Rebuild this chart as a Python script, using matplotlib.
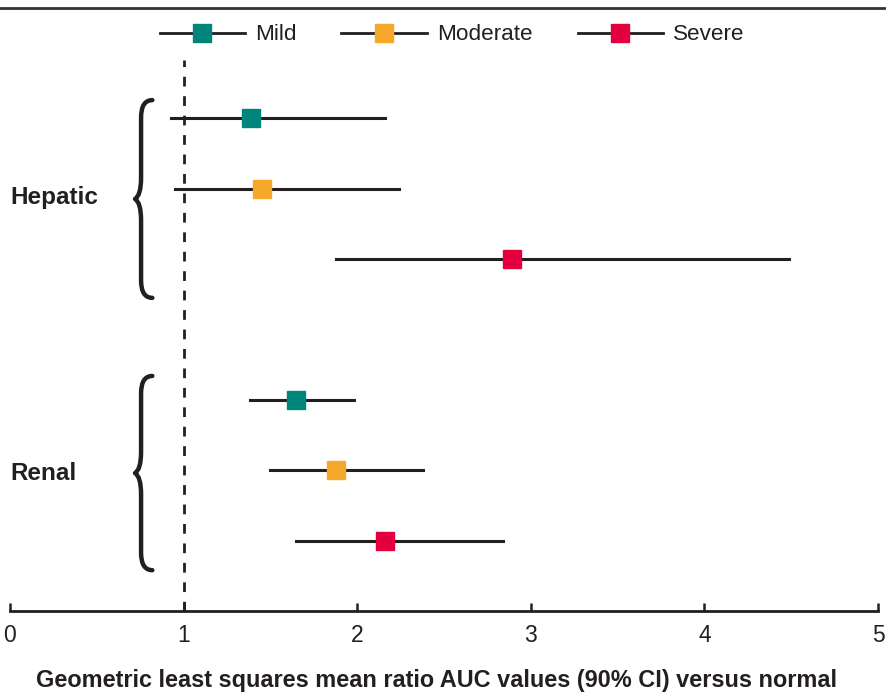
import matplotlib
matplotlib.use("Agg")
import matplotlib.pyplot as plt
from matplotlib.lines import Line2D
from matplotlib.path import Path
from matplotlib.patches import PathPatch
import matplotlib.transforms as mtransforms

# data
groups = ["Hepatic", "Renal"]
severities = ["Mild", "Moderate", "Severe"]
colors = ["#00857a", "#f5a82a", "#e4003f"]

hepatic_mean = [1.39, 1.45, 2.89]
hepatic_low = [0.93, 0.95, 1.88]
hepatic_high = [2.16, 2.24, 4.49]

renal_mean = [1.65, 1.88, 2.16]
renal_low = [1.38, 1.50, 1.65]
renal_high = [1.98, 2.38, 2.84]

plt.rcParams['font.family'] = ['Liberation Sans', 'DejaVu Sans']

fig = plt.figure(figsize=(8.86, 6.93), dpi=100)
ax = fig.add_axes([10 / 886, 1 - 611 / 693, 868 / 886, 551 / 693])

# rows: group 1 at 0,1,2 ; group 2 at 4,5,6
row_start = {"Hepatic": 0, "Renal": 4}
all_data = {
    "Hepatic": (hepatic_mean, hepatic_low, hepatic_high),
    "Renal": (renal_mean, renal_low, renal_high),
}

for g in groups:
    m, lo, hi = all_data[g]
    for k in range(3):
        y = row_start[g] + k
        ax.plot([lo[k], hi[k]], [y, y], color="#231f20", lw=2.2, zorder=2)
        ax.plot(m[k], y, marker="s", ms=12.5, color=colors[k], mec=colors[k], zorder=3)

# reference line at 1
ax.axvline(1, color="#231f20", lw=2, ls=(0, (3.5, 3.5)), zorder=1)


def brace(ax, y0, y1, x_tip=0.72, x_end=0.82):
    # curly brace opening to the right
    mid = (y0 + y1) / 2
    xs = x_tip + 0.035
    verts = [
        (x_end, y0),
        (xs, y0), (xs, y0 + 0.25),
        (xs, mid - 0.3),
        (xs, mid - 0.05), (x_tip, mid),
        (xs, mid + 0.05), (xs, mid + 0.3),
        (xs, y1 - 0.25),
        (xs, y1), (x_end, y1),
    ]
    codes = [Path.MOVETO,
             Path.CURVE3, Path.CURVE3,
             Path.LINETO,
             Path.CURVE3, Path.CURVE3,
             Path.CURVE3, Path.CURVE3,
             Path.LINETO,
             Path.CURVE3, Path.CURVE3]
    ax.add_patch(PathPatch(Path(verts, codes), fill=False, lw=3.2,
                           color="#231f20", capstyle="round", joinstyle="round"))


brace(ax, -0.26, 2.55)
brace(ax, 3.66, 6.42)

trans = mtransforms.blended_transform_factory(ax.transAxes, ax.transData)
ax.text(0, 1.12, "Hepatic", transform=trans, ha="left", va="center",
        fontsize=17.5, fontweight="bold", color="#231f20")
ax.text(0, 5.04, "Renal", transform=trans, ha="left", va="center",
        fontsize=17.5, fontweight="bold", color="#231f20")

ax.set_xlim(0, 5)
ax.set_ylim(7.0, -0.83)
ax.set_xticks([0, 1, 2, 3, 4, 5])
ax.set_yticks([])
for s in ["top", "right", "left"]:
    ax.spines[s].set_visible(False)
ax.spines["bottom"].set_linewidth(2)
ax.spines["bottom"].set_color("#231f20")
ax.tick_params(axis="x", direction="in", length=6, width=1.8,
               labelsize=16.5, pad=9, colors="#231f20")
ax.set_xlabel("Geometric least squares mean ratio AUC values (90% CI) versus normal",
              fontsize=16.9, fontweight="bold", color="#231f20")
ax.xaxis.set_label_coords(426 / 868, -76 / 551)
ax.xaxis.label.set_va("baseline")

handles = [Line2D([0], [0], color="#231f20", lw=2, marker="s", ms=12.5,
                  mfc=c, mec=c) for c in colors]
ax.legend(handles, severities, ncol=3, frameon=False, loc="center",
          bbox_to_anchor=(452 / 886, 1 - 35 / 693), bbox_transform=fig.transFigure,
          fontsize=16.2, handlelength=3.8, handletextpad=0.44, columnspacing=2.0,
          labelcolor="#231f20")

# rule across the top
fig.add_artist(Line2D([0, 1], [1 - 8 / 693, 1 - 8 / 693], transform=fig.transFigure,
                      color="#333333", lw=2))

fig.savefig("out.png", dpi=100)
